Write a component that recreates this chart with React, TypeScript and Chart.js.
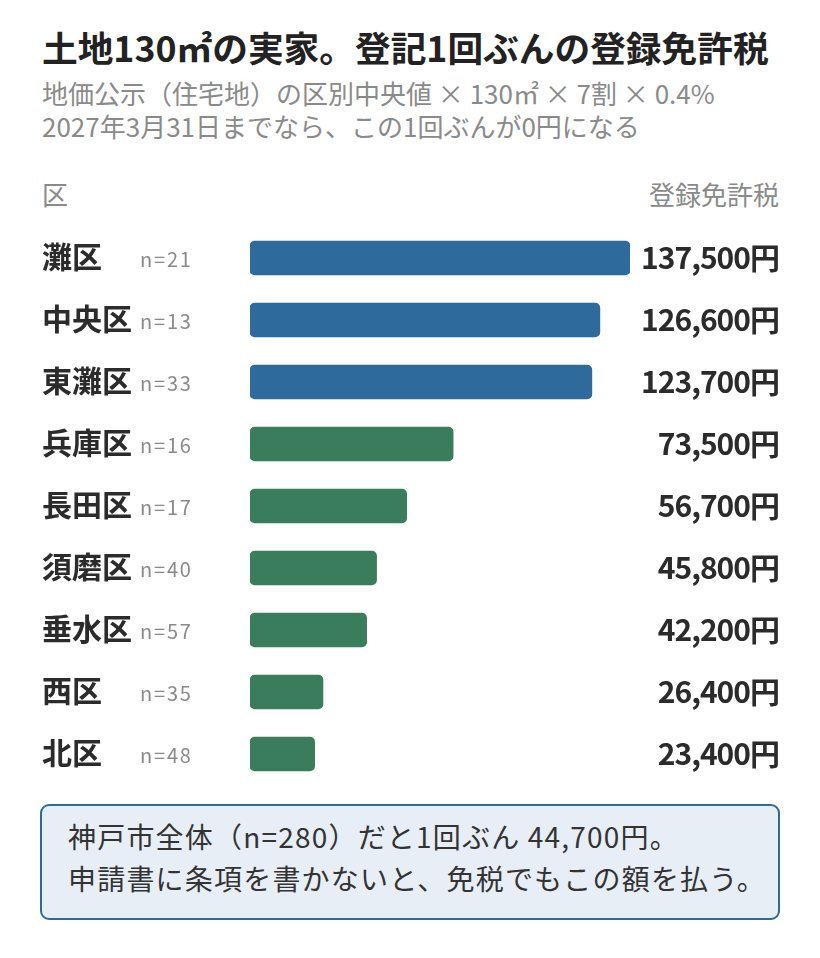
import React, { useEffect, useRef } from "react";
import { Chart, registerables } from "chart.js";

Chart.register(...registerables);

// 区ごとのデータ（地価公示の区別中央値から計算した登録免許税）
const wards = ["灘区", "中央区", "東灘区", "兵庫区", "長田区", "須磨区", "垂水区", "西区", "北区"];
const sampleCounts = [21, 13, 33, 16, 17, 40, 57, 35, 48];
const taxYen = [137500, 126600, 123700, 73500, 56700, 45800, 42200, 26400, 23400];

const FONT = '"Noto Sans CJK JP", sans-serif';
const BLUE = "#2e6a9b";
const GREEN = "#3a7d5c";

const rowLabels = {
  id: "rowLabels",
  afterDatasetsDraw(chart: Chart) {
    const ctx = chart.ctx as any;
    const meta = chart.getDatasetMeta(0);
    ctx.save();
    ctx.textBaseline = "middle";
    meta.data.forEach((bar: any, i: number) => {
      const y = bar.y;
      ctx.textAlign = "left";
      ctx.letterSpacing = "0px";
      ctx.fillStyle = "#2b2b2b";
      ctx.font = `bold 30px ${FONT}`;
      ctx.fillText(wards[i], 42, y - 1);
      ctx.fillStyle = "#8a8a8a";
      ctx.font = `20px ${FONT}`;
      ctx.letterSpacing = "1.8px";
      ctx.fillText(`n=${sampleCounts[i]}`, 140, y + 1);
      ctx.textAlign = "right";
      ctx.fillStyle = "#2b2b2b";
      ctx.font = `bold 30px ${FONT}`;
      ctx.letterSpacing = "-1px";
      ctx.fillText(`${taxYen[i].toLocaleString("ja-JP")}円`, 779, y);
    });
    ctx.restore();
  },
};

export default function App() {
  const chartRef = useRef<HTMLCanvasElement>(null);
  const chartInstance = useRef<Chart | null>(null);

  useEffect(() => {
    if (!chartRef.current) return;
    if (chartInstance.current) chartInstance.current.destroy();

    chartInstance.current = new Chart(chartRef.current, {
      type: "bar",
      data: {
        labels: wards,
        datasets: [
          {
            data: taxYen,
            backgroundColor: taxYen.map((v) => (v > 100000 ? BLUE : GREEN)),
            barThickness: 34,
            borderRadius: 5,
            borderSkipped: false,
          },
        ],
      },
      options: {
        indexAxis: "y",
        animation: false,
        responsive: true,
        maintainAspectRatio: false,
        layout: { padding: { left: 250, right: 190, top: 0, bottom: 0 } },
        plugins: {
          legend: { display: false },
          tooltip: { enabled: false },
        },
        scales: {
          x: { display: false, min: 0, max: 137500 },
          y: { display: false },
        },
      },
      plugins: [rowLabels],
    });

    return () => {
      if (chartInstance.current) {
        chartInstance.current.destroy();
        chartInstance.current = null;
      }
    };
  }, []);

  return (
    <div
      style={{
        position: "absolute",
        left: 0,
        top: 0,
        width: 820,
        height: 958,
        background: "#fff",
        fontFamily: FONT,
      }}
    >
      <div style={{ position: "absolute", left: 42, top: 22, fontSize: 35.7, fontWeight: 700, color: "#222", whiteSpace: "nowrap", lineHeight: "50px" }}>
        土地130㎡の実家。登記1回ぶんの登録免許税
      </div>
      <div style={{ position: "absolute", left: 42, top: 76, fontSize: 26, color: "#8a8a8a", lineHeight: "33px", whiteSpace: "nowrap" }}>
        地価公示（住宅地）の区別中央値 × 130㎡ × 7割 × 0.4%
        <br />
        2027年3月31日までなら、この1回ぶんが0円になる
      </div>
      <div style={{ position: "absolute", left: 42, top: 177, fontSize: 26, color: "#8a8a8a", lineHeight: "34px" }}>区</div>
      <div style={{ position: "absolute", right: 41, top: 177, fontSize: 26, color: "#8a8a8a", lineHeight: "34px" }}>登録免許税</div>

      <div style={{ position: "absolute", left: 0, top: 227, width: 820, height: 558 }}>
        <canvas ref={chartRef}></canvas>
      </div>

      <div
        style={{
          position: "absolute",
          left: 40,
          top: 804,
          width: 740,
          height: 116,
          boxSizing: "border-box",
          border: "2px solid #2e6a9b",
          borderRadius: 9,
          background: "#e8eef6",
          padding: "9px 26px",
          fontSize: 28,
          letterSpacing: "1.2px",
          lineHeight: "42px",
          color: "#333",
          whiteSpace: "nowrap",
        }}
      >
        神戸市全体（n=280）だと1回ぶん 44,700円。
        <br />
        申請書に条項を書かないと、免税でもこの額を払う。
      </div>
    </div>
  );
}
